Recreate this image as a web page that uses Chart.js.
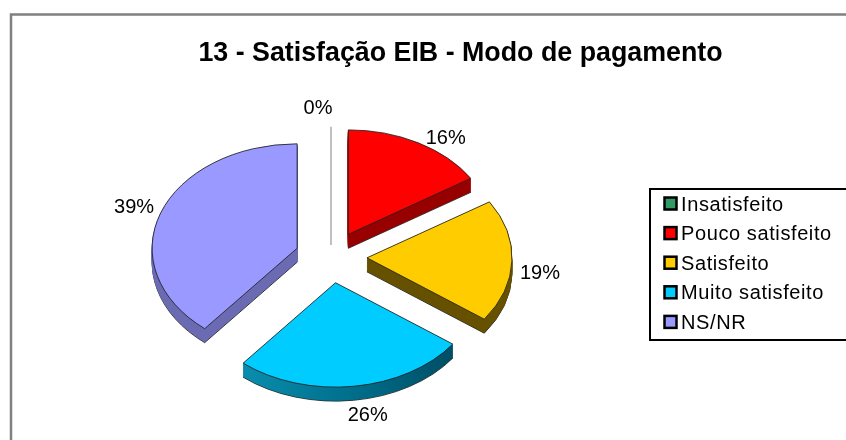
<!DOCTYPE html>
<html lang="pt">
<head>
<meta charset="utf-8">
<title>13 - Satisfação EIB - Modo de pagamento</title>
<script src="https://cdn.jsdelivr.net/npm/chart.js@4"></script>
<style>
    html, body { margin: 0; padding: 0; background: #fff; overflow: hidden; }
    canvas { display: block; }
</style>
</head>
<body>
<canvas id="pieChart" width="846" height="440"></canvas>
<script>
// Chart data
const chartTitle = '13 - Satisfação EIB - Modo de pagamento';
const categories = ['Insatisfeito', 'Pouco satisfeito', 'Satisfeito', 'Muito satisfeito', 'NS/NR'];
const seriesValues = [0, 16, 19, 26, 39];
const sliceColors = ['#339966', '#ff0000', '#ffcc00', '#00ccff', '#9999ff'];
const sideColors = ['#c0c0c0', '#990000', '#665200', '#00607a', '#6b6bb3'];

// Fake 3D look: the pie is squashed, exploded and given a thick side wall
const pieX = 331, pieY = 257, squash = 0.72, depth = 14, explode = 36;
const fontName = '"Liberation Sans", Arial, sans-serif';

function midAngle(arc) {
    return (arc.startAngle + arc.endAngle) / 2;
}

function drawZeroSlice(ctx, arc) {
    // Chart.js skips arcs with no size, so the 0% slice is drawn as a line
    ctx.beginPath();
    ctx.moveTo(arc.x, arc.y);
    ctx.lineTo(arc.x + Math.cos(arc.startAngle) * arc.outerRadius, arc.y + Math.sin(arc.startAngle) * arc.outerRadius);
    ctx.strokeStyle = '#c0c0c0';
    ctx.lineWidth = 2;
    ctx.stroke();
}

const pie3dPlugin = {
    id: 'pie3d',
    beforeDatasetsDraw(chart) {
        const ctx = chart.ctx;
        const arcs = chart.getDatasetMeta(0).data;
        arcs.forEach((arc, i) => {
            const mid = midAngle(arc);
            ctx.save();
            ctx.translate(pieX + Math.cos(mid) * explode, pieY + Math.sin(mid) * explode * squash);
            ctx.scale(1, squash);
            ctx.translate(-arc.x, -arc.y);
            if (seriesValues[i] === 0) {
                for (let d = depth; d >= 0; d--) {
                    ctx.save();
                    ctx.translate(0, d / squash);
                    drawZeroSlice(ctx, arc);
                    ctx.restore();
                }
                ctx.restore();
                return;
            }
            const realOptions = arc.options;
            let side = sideColors[i];
            if (i === 3) {
                // the blue wall is shaded from left to right
                side = ctx.createLinearGradient(arc.x - 100, 0, arc.x + 130, 0);
                side.addColorStop(0, '#0a8fb0');
                side.addColorStop(0.5, '#006f8c');
                side.addColorStop(1, '#004a60');
            }
            for (let d = depth; d > 0; d--) {
                ctx.save();
                ctx.translate(0, d / squash);
                arc.options = Object.assign({}, realOptions, {
                    backgroundColor: side,
                    borderColor: d === depth ? '#222' : side
                });
                arc.draw(ctx);
                ctx.restore();
            }
            arc.options = realOptions;
            arc.draw(ctx);
            ctx.restore();
        });
        return false; // slices are already drawn above
    },
    afterDraw(chart) {
        const ctx = chart.ctx;
        const arcs = chart.getDatasetMeta(0).data;
        ctx.save();

        // frame, only the left and top sides are inside the picture
        ctx.strokeStyle = '#808080';
        ctx.lineWidth = 2.5;
        ctx.beginPath();
        ctx.moveTo(11, 440);
        ctx.lineTo(11, 14.5);
        ctx.lineTo(846, 14.5);
        ctx.stroke();

        // title
        ctx.fillStyle = '#000';
        ctx.font = 'bold 26.8px ' + fontName;
        ctx.textAlign = 'center';
        ctx.textBaseline = 'middle';
        ctx.fillText(chartTitle, 460.5, 54);

        // percentage labels, placed along each slice's middle angle
        const labelRadius = 205;
        const labelShift = [[-13, -1], [16, 11], [4, 12], [11, 12], [-4, 0]];
        ctx.font = '20px ' + fontName;
        arcs.forEach((arc, i) => {
            const mid = midAngle(arc);
            const x = pieX + Math.cos(mid) * labelRadius + labelShift[i][0];
            const y = pieY + Math.sin(mid) * labelRadius * squash + labelShift[i][1];
            ctx.fillText(seriesValues[i] + '%', x, y);
        });

        // legend
        ctx.strokeStyle = '#000';
        ctx.lineWidth = 2;
        ctx.strokeRect(650, 189, 220, 151);
        ctx.textAlign = 'left';
        ctx.letterSpacing = '0.6px';
        categories.forEach((name, i) => {
            const rowY = 204 + i * 29.6;
            ctx.fillStyle = sliceColors[i];
            ctx.lineWidth = 2.5;
            ctx.fillRect(664.5, rowY - 6.5, 12, 12);
            ctx.strokeRect(664.5, rowY - 6.5, 12, 12);
            ctx.fillStyle = '#000';
            ctx.fillText(name, 681, rowY + 1);
        });
        ctx.restore();
    }
};

new Chart(document.getElementById('pieChart'), {
    type: 'pie',
    plugins: [pie3dPlugin],
    data: {
        labels: categories,
        datasets: [{
            data: seriesValues,
            backgroundColor: sliceColors,
            borderColor: '#222',
            borderWidth: 1
        }]
    },
    options: {
        responsive: false,
        animation: false,
        radius: 145,
        plugins: {
            legend: { display: false },
            title: { display: false },
            tooltip: { enabled: false }
        }
    }
});
</script>
</body>
</html>
